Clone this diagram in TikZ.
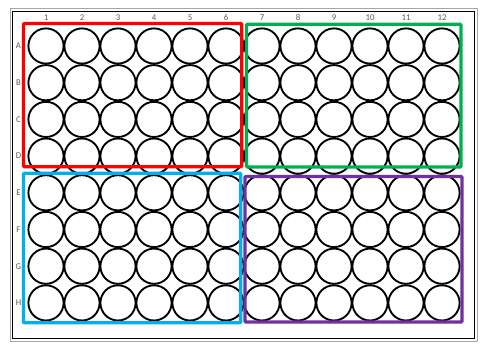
\documentclass[tikz,border=0pt]{standalone}
\usepackage{fontspec}
\setmainfont{Carlito}
\usetikzlibrary{positioning}
\definecolor{qred}{RGB}{255,0,0}
\definecolor{qgreen}{RGB}{0,176,80}
\definecolor{qblue}{RGB}{0,176,240}
\definecolor{qpurple}{RGB}{112,48,160}

\begin{document}
\begin{tikzpicture}[x=0.03cm, y=-0.03cm, font=\fontsize{7.5}{8}\selectfont,
    lbl/.style={text=black!65, inner sep=0pt},
    well/.style={line width=1.6pt, black},
    quad/.style={line width=2.8pt, rounded corners=0.8pt}]
        \useasboundingbox (0,0) rectangle (483,347);
        % plate outline
        \draw[gray!70, line width=0.7pt] (10,8.5) rectangle (477,341);
        \draw[black, line width=0.8pt] (12,11.5) rectangle (474.5,338.5);

        % column and row labels
        \foreach \c in {1,...,12}
            \node[lbl] (col-\c) at ({46+36*(\c-1)}, 17.5) {\c};
        \foreach \r [count=\i] in {A,B,C,D,E,F,G,H}
            \node[lbl] (row-\r) at (18.5, {46+36.7*(\i-1)}) {\r};

        % wells
        \foreach \c in {1,...,12}
            \foreach \i in {1,...,8}
                \draw[well] ({46+36*(\c-1)}, {46+36.7*(\i-1)}) circle (17.6);

        % quadrants
        \draw[quad, qred] (23.4,23.5) rectangle (241.7,166.7);
        \draw[quad, qgreen] (246.5,24.3) rectangle (461,167);
        \draw[quad, qblue] (23.4,173.3) rectangle (240.7,322.8);
        \draw[quad, qpurple] (245,176.5) rectangle (462,322);
    \end{tikzpicture}
\end{document}
